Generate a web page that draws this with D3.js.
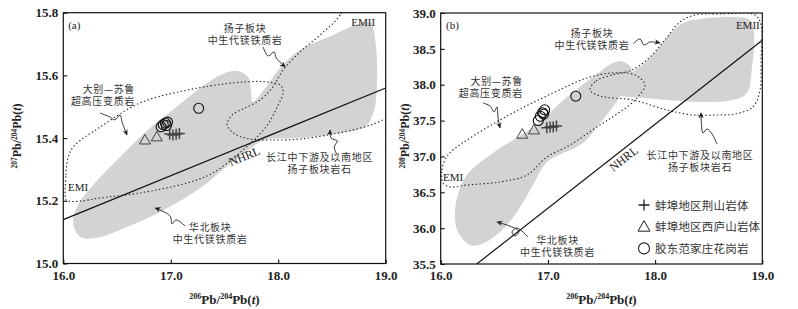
<!DOCTYPE html>
<html>
<head>
<meta charset="utf-8">
<script src="https://cdn.jsdelivr.net/npm/d3@7"></script>
<style>
  body { margin: 0; background: #fff; }
  svg text { font-family: "Liberation Serif", "Times New Roman", serif; fill: #222; }
  svg text.cn { font-family: "Noto Sans CJK SC", sans-serif; font-size: 10px; letter-spacing: 0.7px; fill: #333; }
  svg text.tick { font-size: 13px; font-weight: bold; }
</style>
</head>
<body>
<svg id="chart" width="798" height="309"></svg>
<script>
// 轴刻度
var xTicks = [16.0, 17.0, 18.0, 19.0];
var yTicksA = [15.0, 15.2, 15.4, 15.6, 15.8];
var yTicksB = [35.5, 36.0, 36.5, 37.0, 37.5, 38.0, 38.5, 39.0];

// 样品数据: 206Pb/204Pb(t), 207Pb/204Pb(t), 208Pb/204Pb(t)
var jingshanX = [16.99, 17.02, 17.05, 17.08];
var jingshanY7 = [15.413, 15.410, 15.412, 15.415];
var jingshanY8 = [37.40, 37.41, 37.41, 37.425];
var xiluX = [16.76, 16.87];
var xiluY7 = [15.394, 15.404];
var xiluY8 = [37.31, 37.37];
var fjzX = [16.91, 16.93, 16.95, 16.97, 16.96, 17.26];
var fjzY7 = [15.436, 15.443, 15.448, 15.451, 15.440, 15.495];
var fjzY8 = [37.50, 37.56, 37.61, 37.65, 37.59, 37.84];

var legendNames = ['蚌埠地区荆山岩体', '蚌埠地区西庐山岩体', '胶东范家庄花岗岩'];

// NHRL 参考线
var nhrlA = [[16.0, 15.14], [19.0, 15.56]];
var nhrlB = [[16.336, 35.5], [19.0, 38.62]];

// 灰色区域 (图a)
var grayA = [[16.155,15.085],[16.09,15.133],[16.137,15.187],[16.277,15.25],[16.528,15.34],[16.807,15.432],
  [17.04,15.496],[17.273,15.56],[17.478,15.604],[17.618,15.614],[17.72,15.595],[17.75,15.537],[17.76,15.515],
  [17.85,15.547],[18.017,15.624],[18.203,15.681],[18.51,15.729],[18.744,15.764],[18.856,15.77],[18.902,15.713],
  [18.92,15.585],[18.892,15.49],[18.808,15.436],[18.576,15.416],[18.203,15.4],[17.877,15.394],[17.72,15.362],
  [17.506,15.305],[17.273,15.24],[16.9,15.164],[16.528,15.107],[16.295,15.081]];
// 虚线区域 (图a): 大别-苏鲁, 长江中下游
var dabieA = [[16.025,15.2025],[16.025,15.282],[16.044,15.337],[16.1,15.375],[16.342,15.435],[16.714,15.512],
  [17.152,15.553],[17.58,15.576],[17.86,15.58],[18.018,15.569],[18.046,15.547],[17.99,15.499],[17.906,15.445],
  [17.813,15.407],[17.692,15.368],[17.394,15.289],[17.152,15.257],[16.714,15.225],[16.342,15.209],[16.155,15.199],[16.044,15.199]];
var yangtzeA = [[18.715,15.904],[18.576,15.793],[18.39,15.729],[18.203,15.675],[18.045,15.617],[17.943,15.56],
  [17.832,15.522],[17.692,15.496],[17.571,15.474],[17.524,15.442],[17.598,15.413],[17.738,15.397],[17.924,15.394],
  [18.203,15.397],[18.51,15.413],[18.762,15.432],[18.949,15.454],[19.135,15.496],[19.415,15.649],[19.32,15.904]];

// 灰色区域 (图b)
var grayB1 = [[16.273,35.765],[16.161,35.946],[16.133,36.142],[16.152,36.42],[16.245,36.741],[16.46,37.02],
  [16.861,37.411],[17.178,37.829],[17.42,38.108],[17.606,38.303],[17.69,38.324],[17.765,38.262],[17.785,38.164],
  [17.72,37.955],[17.598,37.676],[17.486,37.466],[17.327,37.188],[16.992,36.923],[16.861,36.602],[16.712,36.225],
  [16.553,35.946],[16.385,35.779]];
var grayB2 = [[17.458,37.927],[17.505,38.038],[17.673,38.108],[17.859,38.248],[18.018,38.485],[18.111,38.666],
  [18.26,38.861],[18.419,38.917],[18.727,38.945],[18.885,38.903],[18.922,38.722],[18.904,38.248],[18.857,37.885],
  [18.727,37.787],[18.419,37.759],[18.111,37.787],[17.794,37.829],[17.552,37.857]];
var dabieB = [[16.021,36.63],[16.012,36.811],[16.049,36.978],[16.115,37.09],[16.553,37.508],[17.048,37.885],
  [17.365,38.094],[17.598,38.164],[17.813,38.136],[17.906,37.997],[17.813,37.787],[17.645,37.592],[17.486,37.439],
  [17.206,37.16],[16.992,36.992],[16.805,36.741],[16.553,36.644],[16.245,36.602],[16.087,36.574]];
var yangtzeB = [[17.393,37.927],[17.449,38.052],[17.598,38.136],[17.785,38.206],[17.953,38.387],[18.092,38.624],
  [18.232,38.875],[18.372,38.973],[18.606,38.987],[18.932,38.973],[18.988,38.833],[18.988,38.345],[18.979,37.927],
  [18.913,37.69],[18.745,37.592],[18.577,37.578],[18.353,37.578],[18.11,37.648],[17.793,37.787],[17.486,37.843]];

// 指示箭头
var arrowsA = [
  [[17.859,15.691],[17.906,15.662],[17.962,15.675],[17.981,15.656],[18.065,15.627]],
  [[16.342,15.48],[16.435,15.467],[16.481,15.458],[16.528,15.474],[16.547,15.451],[16.593,15.41]],
  [[18.548,15.346],[18.521,15.372],[18.548,15.391],[18.492,15.4],[18.483,15.426]],
  [[17.133,15.12],[17.049,15.139],[17.012,15.126],[16.993,15.152],[16.854,15.177]]
];
var arrowsB = [
  [[17.794,38.568],[17.859,38.638],[17.896,38.554],[17.953,38.596],[18.046,38.582]],
  [[16.395,37.745],[16.46,37.704],[16.497,37.62],[16.525,37.69],[16.535,37.536],[16.553,37.397]],
  [[18.577,37.174],[18.531,37.313],[18.484,37.383],[18.447,37.327],[18.428,37.606]],
  [[16.814,35.877],[16.712,36.002],[16.665,35.946],[16.693,35.891],[16.73,35.96],[16.525,36.086]]
];

// 文字标注 [文本('|'分行), x, y(首行基线), 对齐, 类型]
var labelsA = [
  ['(a)', 16.045, 15.748, 'start', 'en'],
  ['EMII', 18.902, 15.758, 'end', 'en'],
  ['扬子板块|中生代镁铁质岩', 17.692, 15.738, 'middle', 'cn'],
  ['大别—苏鲁|超高压变质岩', 16.668, 15.543, 'end', 'cn'],
  ['EMI', 16.044, 15.231, 'start', 'en'],
  ['长江中下游及以南地区|扬子板块岩石', 18.385, 15.326, 'middle', 'cn'],
  ['华北板块|中生代镁铁质岩', 17.366, 15.104, 'middle', 'cn']
];
var labelsB = [
  ['(b)', 16.05, 38.778, 'start', 'en'],
  ['EMII', 18.976, 38.778, 'end', 'en'],
  ['扬子板块|中生代镁铁质岩', 17.411, 38.666, 'middle', 'cn'],
  ['大别—苏鲁|超高压变质岩', 16.767, 37.99, 'end', 'cn'],
  ['EMI', 16.021, 36.658, 'start', 'en'],
  ['长江中下游及以南地区|扬子板块岩石', 18.419, 36.964, 'middle', 'cn'],
  ['华北板块|中生代镁铁质岩', 17.09, 35.779, 'middle', 'cn']
];

var svg = d3.select('#chart');
var defs = svg.append('defs');
defs.append('marker').attr('id', 'arrowhead')
  .attr('viewBox', '0 0 10 10').attr('refX', 9).attr('refY', 5)
  .attr('markerWidth', 6).attr('markerHeight', 6)
  .attr('markerUnits', 'userSpaceOnUse').attr('orient', 'auto')
  .append('path').attr('d', 'M0,0.5 L10,5 L0,9.5 L3,5 z').attr('fill', '#222');

var zip = function (xs, ys) { return xs.map(function (v, i) { return [v, ys[i]]; }); };

var drawPanel = function (cfg) {
  var box = cfg.box;   // left, top, right, bottom
  var x = d3.scaleLinear().domain([16, 19]).range([box[0], box[2]]);
  var y = d3.scaleLinear().domain(cfg.yDomain).range([box[3], box[1]]);
  var g = svg.append('g');

  defs.append('clipPath').attr('id', 'clip-' + cfg.id).append('rect')
    .attr('x', box[0]).attr('y', box[1]).attr('width', box[2] - box[0]).attr('height', box[3] - box[1]);
  var plot = g.append('g').attr('clip-path', 'url(#clip-' + cfg.id + ')');

  var closed = d3.line().x(function (d) { return x(d[0]); }).y(function (d) { return y(d[1]); })
    .curve(d3.curveCatmullRomClosed.alpha(0.5));
  var open = d3.line().x(function (d) { return x(d[0]); }).y(function (d) { return y(d[1]); })
    .curve(d3.curveCatmullRom.alpha(0.5));

  plot.selectAll('path.gray').data(cfg.gray).enter().append('path')
    .attr('class', 'gray').attr('d', closed).attr('fill', '#d3d3d3');
  plot.selectAll('path.dot').data(cfg.dotted).enter().append('path')
    .attr('class', 'dot').attr('d', closed).attr('fill', 'none')
    .attr('stroke', '#222').attr('stroke-width', 1.1).attr('stroke-dasharray', '1.4 2.4');
  plot.append('path').attr('d', d3.line().x(function (d) { return x(d[0]); }).y(function (d) { return y(d[1]); })(cfg.nhrl))
    .attr('stroke', '#111').attr('stroke-width', 1.2).attr('fill', 'none');
  plot.selectAll('path.arrow').data(cfg.arrows).enter().append('path')
    .attr('class', 'arrow').attr('d', open).attr('fill', 'none')
    .attr('stroke', '#222').attr('stroke-width', 0.9).attr('marker-end', 'url(#arrowhead)');

  // 样品点
  plot.selectAll('circle.fjz').data(zip(fjzX, cfg.fjzY)).enter().append('circle')
    .attr('cx', function (d) { return x(d[0]); }).attr('cy', function (d) { return y(d[1]); })
    .attr('r', 5).attr('fill', 'none').attr('stroke', '#111').attr('stroke-width', 1.1);
  plot.selectAll('path.xilu').data(zip(xiluX, cfg.xiluY)).enter().append('path')
    .attr('d', function (d) { var cx = x(d[0]), cy = y(d[1]);
      return 'M' + cx + ',' + (cy - 5.5) + 'L' + (cx + 5.5) + ',' + (cy + 4) + 'L' + (cx - 5.5) + ',' + (cy + 4) + 'Z'; })
    .attr('fill', 'none').attr('stroke', '#333').attr('stroke-width', 0.9);
  plot.selectAll('path.jing').data(zip(jingshanX, cfg.jingY)).enter().append('path')
    .attr('d', function (d) { var cx = x(d[0]), cy = y(d[1]);
      return 'M' + (cx - 5.5) + ',' + cy + 'H' + (cx + 5.5) + 'M' + cx + ',' + (cy - 5.5) + 'V' + (cy + 5.5); })
    .attr('stroke', '#444').attr('stroke-width', 1.5);

  // NHRL 标注, 与参考线平行
  var ang = Math.atan2(y(cfg.nhrl[1][1]) - y(cfg.nhrl[0][1]), x(cfg.nhrl[1][0]) - x(cfg.nhrl[0][0])) * 180 / Math.PI;
  g.append('text').text('NHRL').attr('font-size', 12).attr('text-anchor', 'middle')
    .attr('transform', 'translate(' + x(cfg.nhrlLabel[0]) + ',' + y(cfg.nhrlLabel[1]) + ') rotate(' + ang + ')');

  g.selectAll('text.lab').data(cfg.labels).enter().append('text')
    .attr('class', function (d) { return d[4] === 'cn' ? 'cn' : 'lab'; })
    .attr('y', function (d) { return y(d[2]); })
    .attr('text-anchor', function (d) { return d[3]; })
    .attr('font-size', function (d) { return d[4] === 'cn' ? null : 11; })
    .each(function (d) {
      var t = d3.select(this);
      d[0].split('|').forEach(function (s, i) {
        t.append('tspan').attr('x', x(d[1])).attr('dy', i ? 11.8 : 0).text(s);
      });
    });

  // 坐标轴 (刻度向内)
  var xAxis = g.append('g').attr('transform', 'translate(0,' + box[3] + ')')
    .call(d3.axisBottom(x).tickValues(xTicks).tickFormat(d3.format('.1f')).tickSizeInner(-4).tickSizeOuter(0).tickPadding(7));
  var yAxis = g.append('g').attr('transform', 'translate(' + box[0] + ',0)')
    .call(d3.axisLeft(y).tickValues(cfg.yTicks).tickFormat(d3.format('.1f')).tickSizeInner(-4).tickSizeOuter(0).tickPadding(5));
  [xAxis, yAxis].forEach(function (a) {
    a.select('.domain').remove();
    a.selectAll('line').attr('stroke', '#111').attr('stroke-width', 1.1);
    a.selectAll('text').attr('class', 'tick').attr('font-family', null).attr('font-size', null).attr('fill', null);
  });

  g.append('rect').attr('x', box[0]).attr('y', box[1]).attr('width', box[2] - box[0]).attr('height', box[3] - box[1])
    .attr('fill', 'none').attr('stroke', '#111').attr('stroke-width', 1.2);

  // 轴标题
  var xt = g.append('text').attr('x', (box[0] + box[2]) / 2).attr('y', 304)
    .attr('text-anchor', 'middle').attr('font-size', 13).attr('font-weight', 'bold');
  xt.append('tspan').attr('font-size', 8).attr('dy', -5).text('206');
  xt.append('tspan').attr('dy', 5).text('Pb/');
  xt.append('tspan').attr('font-size', 8).attr('dy', -5).text('204');
  xt.append('tspan').attr('dy', 5).text('Pb(');
  xt.append('tspan').attr('font-style', 'italic').text('t');
  xt.append('tspan').text(')');

  var yt = g.append('text').attr('transform', 'translate(' + cfg.yTitleX + ',136) rotate(-90)')
    .attr('text-anchor', 'middle').attr('font-size', 12).attr('font-weight', 'bold');
  yt.append('tspan').attr('font-size', 7.5).attr('dy', -4.5).text(cfg.yIso);
  yt.append('tspan').attr('dy', 4.5).text('Pb/');
  yt.append('tspan').attr('font-size', 7.5).attr('dy', -4.5).text('204');
  yt.append('tspan').attr('dy', 4.5).text('Pb(');
  yt.append('tspan').attr('font-style', 'italic').text('t');
  yt.append('tspan').text(')');

  return { x: x, y: y, g: g };
};

drawPanel({
  id: 'a', box: [63.3, 12.7, 385.7, 263.5], yDomain: [15.0, 15.8], yTicks: yTicksA,
  gray: [grayA], dotted: [dabieA, yangtzeA], nhrl: nhrlA, nhrlLabel: [17.70, 15.33],
  arrows: arrowsA, labels: labelsA, fjzY: fjzY7, xiluY: xiluY7, jingY: jingshanY7,
  yIso: '207', yTitleX: 21
});

var pb = drawPanel({
  id: 'b', box: [440.7, 13, 762.3, 264], yDomain: [35.5, 39.0], yTicks: yTicksB,
  gray: [grayB1, grayB2], dotted: [dabieB, yangtzeB], nhrl: nhrlB, nhrlLabel: [17.729, 36.923],
  arrows: arrowsB, labels: labelsB, fjzY: fjzY8, xiluY: xiluY8, jingY: jingshanY8,
  yIso: '208', yTitleX: 409
});

// 图例
var legend = pb.g.append('g').attr('transform', 'translate(644,205)');
var items = legend.selectAll('g').data(legendNames).enter().append('g')
  .attr('transform', function (d, i) { return 'translate(0,' + (i * 21.7) + ')'; });
items.filter(function (d, i) { return i === 0; }).append('path')
  .attr('d', 'M-5.5,0H5.5M0,-5.5V5.5').attr('stroke', '#222').attr('stroke-width', 1.3);
items.filter(function (d, i) { return i === 1; }).append('path')
  .attr('d', 'M0,-6L6,4.5L-6,4.5Z').attr('fill', 'none').attr('stroke', '#222').attr('stroke-width', 1);
items.filter(function (d, i) { return i === 2; }).append('circle')
  .attr('r', 5.5).attr('fill', 'none').attr('stroke', '#222').attr('stroke-width', 1.1);
items.append('text').attr('class', 'cn').attr('x', 11).attr('y', 4.5)
  .style('font-size', '11.5px').style('letter-spacing', '0.2px').text(function (d) { return d; });
</script>
</body>
</html>
